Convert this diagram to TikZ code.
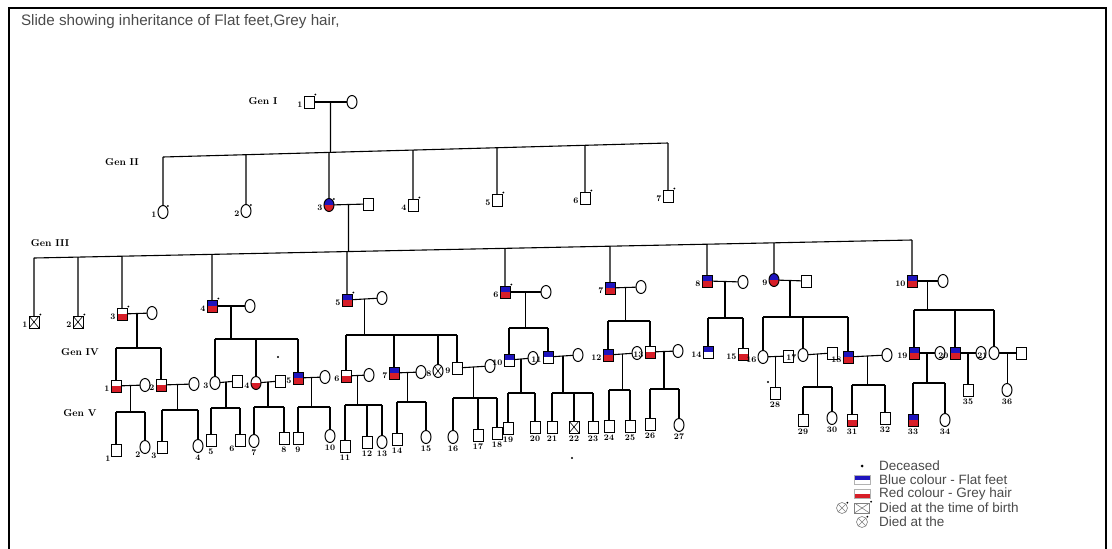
\documentclass[tikz,border=0pt]{standalone}
\usepackage{fontspec}
\setsansfont{Liberation Sans}
\usetikzlibrary{shapes.geometric,calc}
\definecolor{fblue}{RGB}{30,20,190}
\definecolor{fred}{RGB}{215,30,40}
\definecolor{txtgray}{RGB}{75,75,75}
\newcommand\famlink[5]{%
  \coordinate (fy) at (0,#2);
  \draw[ln] (#3.north |- fy) -- (#4.north |- fy);
  \draw[ln] (#1) -- (#1 |- fy);
  \foreach \c in {#5} {\draw[ln] (\c.north) -- (\c.north |- fy);}
}
\newcommand\couple[3]{\draw[ln] (#1) -- (#2); \coordinate (#3) at ($(#1)!.5!(#2)$);}
\begin{document}
\begin{tikzpicture}[x=1pt,y=-1pt,
  every node/.style={inner sep=0pt,outer sep=0pt},
  ln/.style={line width=1.1pt},
  sq/.style={draw,rectangle,minimum width=10pt,minimum height=12pt,line width=1pt},
  ci/.style={draw,ellipse,minimum width=10pt,minimum height=13pt,line width=1pt},
  bothf/.style={path picture={\fill[fblue] (path picture bounding box.north west) rectangle (path picture bounding box.east);
     \fill[fred] (path picture bounding box.west) rectangle (path picture bounding box.south east);}},
  bluef/.style={path picture={\fill[fblue] (path picture bounding box.north west) rectangle (path picture bounding box.east);}},
  redf/.style={path picture={\fill[fred] (path picture bounding box.west) rectangle (path picture bounding box.south east);}},
  xmark/.style={path picture={\draw[line width=0.6pt] (path picture bounding box.north west) -- (path picture bounding box.south east) (path picture bounding box.north east) -- (path picture bounding box.south west);}},
  lab/.style={font=\bfseries\fontsize{8.5}{8.5}\selectfont},
  nl/.style={label={[lab,yshift=-3pt,label distance=1.5pt]left:#1}},
  nb/.style={label={[lab,label distance=2.5pt]below:#1}},
  nbl/.style={label={[lab,label distance=1pt]below left:#1}},
  dead/.style={label={[circle,fill,minimum size=2pt,inner sep=0pt,label distance=1pt]north east:{}}},
  dotn/.style={circle,fill,minimum size=2.2pt},
  gen/.style={font=\bfseries\fontsize{10}{10}\selectfont},
  legt/.style={anchor=west,text=txtgray,font=\sffamily\fontsize{13.5}{14}\selectfont},
]
\useasboundingbox (0,0) rectangle (1112,549);
\fill[white] (0,0) rectangle (1112,549);
\draw[line width=2.6pt] (9,556) -- (9,8) -- (1106,8) -- (1106,556);
\node[anchor=west,text=txtgray,font=\sffamily\fontsize{15.2}{17}\selectfont] (title) at (21,22) {Slide showing inheritance of Flat feet,Grey hair,};

% generation labels
\node[gen] (gI) at (263,101) {Gen I};
\node[gen] (gII) at (122,162) {Gen II};
\node[gen] (gIII) at (50,243) {Gen III};
\node[gen] (gIV) at (80,352) {Gen IV};
\node[gen] (gV) at (80,413) {Gen V};

% Gen I
\node[sq,nl=1,dead] (I1) at (309,102) {};
\node[ci] (I2) at (352,102) {};

% Gen II
\node[ci,nl=1,dead] (II1) at (163,212) {};
\node[ci,nl=2,dead] (II2) at (246,211) {};
\node[ci,bothf,nl=3,dead] (II3) at (329,205) {};
\node[sq] (II3h) at (368,204) {};
\node[sq,nl=4,dead] (II4) at (413,205) {};
\node[sq,nl=5,dead] (II5) at (497,200) {};
\node[sq,nl=6,dead] (II6) at (585,198) {};
\node[sq,nl=7,dead] (II7) at (668,196) {};

% Gen III
\node[sq,xmark,nl=1,dead] (III1) at (34,322) {};
\node[sq,xmark,nl=2,dead] (III2) at (78,322) {};
\node[sq,redf,nl=3,dead] (III3) at (122,314) {};
\node[ci] (III3w) at (152,313) {};
\node[sq,bothf,nl=4,dead] (III4) at (212,306) {};
\node[ci] (III4w) at (250,306) {};
\node[sq,bothf,nl=5,dead] (III5) at (347,300) {};
\node[ci] (III5w) at (382,298) {};
\node[sq,bothf,nl=6,dead] (III6) at (505,292) {};
\node[ci] (III6w) at (546,292) {};
\node[sq,bothf,nl=7] (III7) at (610,288) {};
\node[ci] (III7w) at (641,287) {};
\node[sq,bothf,nl=8] (III8) at (707,281) {};
\node[ci] (III8w) at (743,282) {};
\node[ci,bothf,nl=9] (III9) at (774,280) {};
\node[sq] (III9h) at (806,281) {};
\node[sq,bothf,nl=10] (III10) at (912,281) {};
\node[ci] (III10w) at (943,281) {};

% Gen IV
\node[sq,redf,nl=1] (IV1) at (116,386) {};
\node[ci] (IV1w) at (145,385) {};
\node[sq,redf,nl=2] (IV2) at (161,385) {};
\node[ci] (IV2w) at (194,384) {};
\node[ci,nl=3] (IV3) at (215,383) {};
\node[sq] (IV3h) at (237,381) {};
\node[ci,redf,nl=4] (IV4) at (256,383) {};
\node[sq] (IV4h) at (280,381) {};
\node[dotn] (d1) at (278,357) {};
\node[sq,bothf,nl=5] (IV5) at (298,378) {};
\node[ci] (IV5w) at (325,377) {};
\node[sq,redf,nl=6] (IV6) at (346,376) {};
\node[ci] (IV6w) at (369,375) {};
\node[sq,bothf,nl=7] (IV7) at (394,373) {};
\node[ci] (IV7w) at (421,372) {};
\node[ci,xmark,nl=8] (IV8) at (438,371) {};
\node[sq,nl=9] (IV9) at (457,368) {};
\node[ci] (IV9w) at (490,366) {};
\node[sq,bluef,nl=10] (IV10) at (509,360) {};
\node[ci] (IV10w) at (533,358) {};
\node[sq,bluef,nl=11] (IV11) at (548,357) {};
\node[ci] (IV11w) at (578,355) {};
\node[sq,bothf,nl=12] (IV12) at (608,355) {};
\node[ci] (IV12w) at (637,353) {};
\node[sq,redf,nl=13] (IV13) at (650,352) {};
\node[ci] (IV13w) at (678,351) {};
\node[sq,bluef,nl=14] (IV14) at (708,352) {};
\node[sq,redf,nl=15] (IV15) at (743,354) {};
\node[ci,nl=16] (IV16) at (763,357) {};
\node[sq] (IV16h) at (788,356) {};
\node[ci,nl=17] (IV17) at (803,355) {};
\node[sq] (IV17h) at (832,353) {};
\node[sq,bothf,nl=18] (IV18) at (848,357) {};
\node[ci] (IV18w) at (887,355) {};
\node[sq,bothf,nl=19] (IV19) at (914,353) {};
\node[ci] (IV19w) at (940,353) {};
\node[sq,bothf,nl=20] (IV20) at (955,353) {};
\node[ci] (IV20w) at (981,353) {};
\node[ci,nl=21] (IV21) at (994,353) {};
\node[sq] (IV21h) at (1021,353) {};

% Gen V
\node[sq,nbl=1] (V1) at (116,450) {};
\node[ci,nbl=2] (V2) at (145,447) {};
\node[sq,nbl=3] (V3) at (162,447) {};
\node[ci,nb=4] (V4) at (198,446) {};
\node[sq,nb=5] (V5) at (211,440) {};
\node[sq,nbl=6] (V6) at (240,440) {};
\node[ci,nb=7] (V7) at (254,441) {};
\node[sq,nb=8] (V8) at (284,438) {};
\node[sq,nb=9] (V9) at (298,438) {};
\node[ci,nb=10] (V10) at (330,436) {};
\node[sq,nb=11] (V11) at (345,446) {};
\node[sq,nb=12] (V12) at (367,442) {};
\node[ci,nb=13] (V13) at (382,442) {};
\node[sq,nb=14] (V14) at (397,439) {};
\node[ci,nb=15] (V15) at (426,437) {};
\node[ci,nb=16] (V16) at (453,437) {};
\node[sq,nb=17] (V17) at (478,435) {};
\node[sq,nb=18] (V18) at (497,433) {};
\node[sq,nb=19] (V19) at (508,428) {};
\node[sq,nb=20] (V20) at (535,427) {};
\node[sq,nb=21] (V21) at (552,427) {};
\node[sq,xmark,nb=22] (V22) at (574,427) {};
\node[dotn] (d2) at (572,458) {};
\node[sq,nb=23] (V23) at (593,427) {};
\node[sq,nb=24] (V24) at (609,426) {};
\node[sq,nb=25] (V25) at (630,426) {};
\node[sq,nb=26] (V26) at (650,424) {};
\node[ci,nb=27] (V27) at (679,425) {};
\node[sq,nb=28] (V28) at (775,393) {};
\node[dotn] (d3) at (768,382) {};
\node[sq,nb=29] (V29) at (803,420) {};
\node[ci,nb=30] (V30) at (832,418) {};
\node[sq,redf,nb=31] (V31) at (852,420) {};
\node[sq,nb=32] (V32) at (885,418) {};
\node[sq,bothf,nb=33] (V33) at (913,420) {};
\node[ci,nb=34] (V34) at (945,420) {};
\node[sq,nb=35] (V35) at (968,390) {};
\node[ci,nb=36] (V36) at (1007,390) {};

% ---------- connectors ----------
\couple{I1}{I2}{mI}
\coordinate (g2a) at (163,157);
\coordinate (g2b) at (668,143);
\draw[ln] (g2a) -- (g2b);
\coordinate (mIb) at ($(mI)+(0,100)$);
\draw[ln] (mI) -- (intersection of g2a--g2b and mI--mIb);
\foreach \c in {II1,II2,II3,II4,II5,II6,II7}
  {\draw[ln] (\c.north) -- (intersection of g2a--g2b and \c.north--\c.south);}

\couple{II3}{II3h}{mII3}
\coordinate (g3a) at (34,258);
\coordinate (g3b) at (912,240);
\draw[ln] (g3a) -- (g3b);
\coordinate (mII3b) at ($(mII3)+(0,100)$);
\draw[ln] (mII3) -- (intersection of g3a--g3b and mII3--mII3b);
\foreach \c in {III1,III2,III3,III4,III5,III6,III7,III8,III9,III10}
  {\draw[ln] (\c.north) -- (intersection of g3a--g3b and \c.north--\c.south);}

\couple{III3}{III3w}{mIII3}
\couple{III4}{III4w}{mIII4}
\couple{III5}{III5w}{mIII5}
\couple{III6}{III6w}{mIII6}
\couple{III7}{III7w}{mIII7}
\couple{III8}{III8w}{mIII8}
\couple{III9}{III9h}{mIII9}
\couple{III10}{III10w}{mIII10}

\famlink{mIII3}{348}{IV1}{IV2}{IV1,IV2}
\famlink{mIII4}{339}{IV3}{IV5}{IV3,IV4,IV5}
\famlink{mIII5}{335}{IV6}{IV9}{IV6,IV7,IV8,IV9}
\famlink{mIII6}{328}{IV10}{IV11}{IV10,IV11}
\famlink{mIII7}{321}{IV12}{IV13}{IV12,IV13}
\famlink{mIII8}{318}{IV14}{IV15}{IV14,IV15}
\famlink{mIII9}{317}{IV16}{IV18}{IV16,IV17,IV18}
\famlink{mIII10}{310}{IV19}{IV21}{IV19,IV20,IV21}

\couple{IV1}{IV1w}{mIV1}
\couple{IV2}{IV2w}{mIV2}
\couple{IV3}{IV3h}{mIV3}
\couple{IV4}{IV4h}{mIV4}
\couple{IV5}{IV5w}{mIV5}
\couple{IV6}{IV6w}{mIV6}
\couple{IV7}{IV7w}{mIV7}
\couple{IV9}{IV9w}{mIV9}
\couple{IV10}{IV10w}{mIV10}
\couple{IV11}{IV11w}{mIV11}
\couple{IV12}{IV12w}{mIV12}
\couple{IV13}{IV13w}{mIV13}
\couple{IV16}{IV16h}{mIV16}
\couple{IV17}{IV17h}{mIV17}
\couple{IV18}{IV18w}{mIV18}
\couple{IV19}{IV19w}{mIV19}
\couple{IV20}{IV20w}{mIV20}
\couple{IV21}{IV21h}{mIV21}

\famlink{mIV1}{412}{V1}{V2}{V1,V2}
\famlink{mIV2}{410}{V3}{V4}{V3,V4}
\famlink{mIV3}{408}{V5}{V6}{V5,V6}
\famlink{mIV4}{407}{V7}{V8}{V7,V8}
\famlink{mIV5}{407}{V9}{V10}{V9,V10}
\famlink{mIV6}{405}{V11}{V13}{V11,V12,V13}
\famlink{mIV7}{402}{V14}{V15}{V14,V15}
\famlink{mIV9}{398}{V16}{V18}{V16,V17,V18}
\famlink{mIV10}{393}{V19}{V20}{V19,V20}
\famlink{mIV11}{393}{V21}{V23}{V21,V22,V23}
\famlink{mIV12}{390}{V24}{V25}{V24,V25}
\famlink{mIV13}{389}{V26}{V27}{V26,V27}
\draw[ln] (mIV16) -- (mIV16 |- V28.north);
\famlink{mIV17}{387}{V29}{V30}{V29,V30}
\famlink{mIV18}{385}{V31}{V32}{V31,V32}
\famlink{mIV19}{383}{V33}{V34}{V33,V34}
\draw[ln] (mIV20) -- (mIV20 |- V35.north);
\draw[ln] (mIV21) -- (mIV21 |- V36.north);

% ---------- legend ----------
\node[dotn,minimum size=3pt] (k1) at (862,466) {};
\node[draw=gray!60,line width=0.4pt,minimum width=16pt,minimum height=9pt,bluef] (k2) at (862,480) {};
\node[draw=gray!60,line width=0.4pt,minimum width=16pt,minimum height=9pt,redf] (k3) at (862,494) {};
\node[ci,xmark,draw=gray,minimum width=11pt,minimum height=11pt,line width=0.6pt,dead] (k4a) at (842,508) {};
\node[sq,xmark,draw=gray,minimum width=15pt,minimum height=10pt,line width=0.6pt,dead] (k4b) at (862,508) {};
\node[ci,xmark,draw=gray,minimum width=11pt,minimum height=11pt,line width=0.6pt,dead] (k5) at (862,522) {};
\node[legt] (t1) at (879,466) {Deceased};
\node[legt] (t2) at (879,480) {Blue colour - Flat feet};
\node[legt] (t3) at (879,494) {Red colour - Grey hair};
\node[legt] (t4) at (879,508) {Died at the time of birth};
\node[legt] (t5) at (879,522) {Died at the};
\end{tikzpicture}
\end{document}
